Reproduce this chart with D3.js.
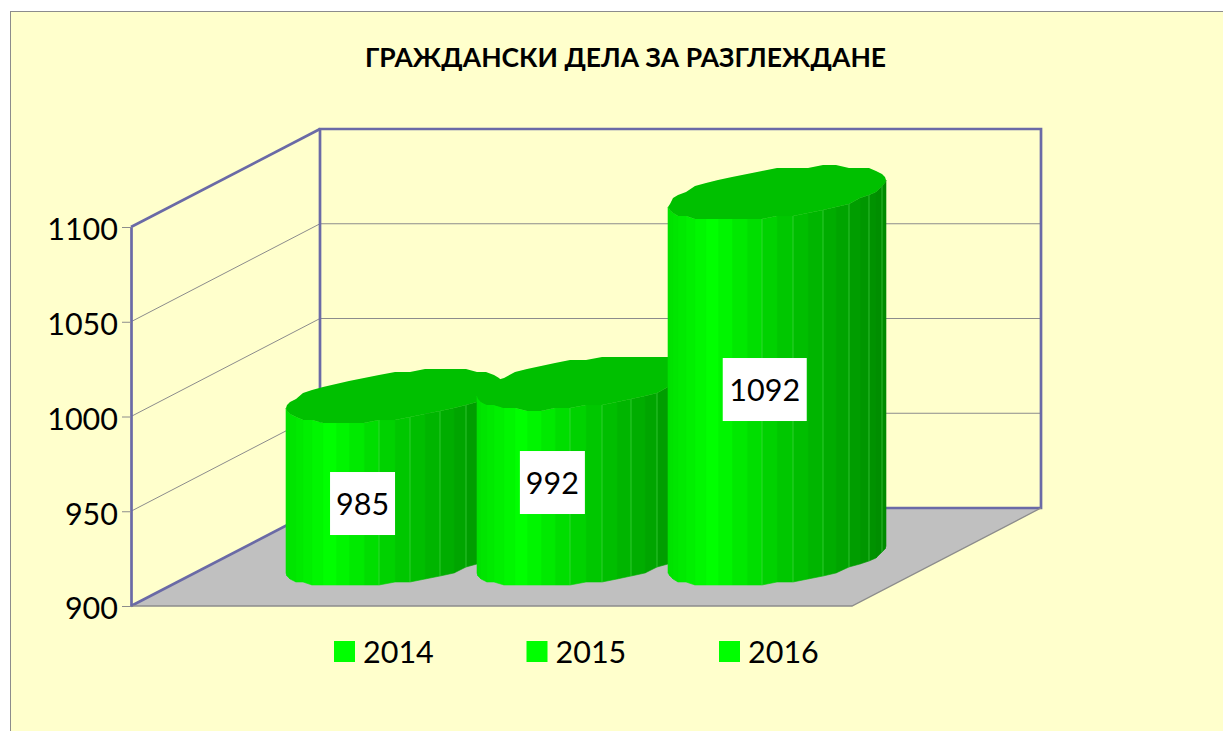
<!DOCTYPE html>
<html>
<head>
<meta charset="utf-8">
<script src="https://cdn.jsdelivr.net/npm/d3@7"></script>
<style>
    html, body { margin: 0; padding: 0; background: #fff; overflow: hidden; }
    text { font-family: Lato, Carlito, "Open Sans", sans-serif; fill: #000; }
</style>
</head>
<body>
<svg id="chart" width="1223" height="731"></svg>
<script>
const chartTitle = 'ГРАЖДАНСКИ ДЕЛА ЗА РАЗГЛЕЖДАНЕ';
const years = ['2014', '2015', '2016'];
const values = [985, 992, 1092];
const yTicks = [900, 950, 1000, 1050, 1100];

// Floor and depth of the 3D box, in pixels
const originX = 131, originY = 606, floorWidth = 721;
const depthX = 189, depthY = 98;
const blue = '#6a6aa6', grey = '#8c8c8c';

const svg = d3.select('#chart');
const line = d3.line();

const x = d3.scaleBand().domain(years).range([0, floorWidth]).paddingInner(0).paddingOuter(0.384);
const y = d3.scaleLinear().domain([900, 1100]).range([originY, 227]);

// u along the floor, v into the depth, value up the wall
function project(u, v, value) {
    return [originX + u + v * depthX, y(value) - v * depthY];
}

// Panel
svg.append('rect').attr('x', 10.5).attr('y', 11.5).attr('width', 1240).attr('height', 760)
    .attr('fill', '#ffffcc').attr('stroke', grey).attr('stroke-width', 1);

svg.append('text').attr('x', 625.5).attr('y', 67).attr('text-anchor', 'middle')
    .attr('font-size', 26.5).attr('font-weight', 'bold').text(chartTitle);

// Floor
svg.append('path')
    .attr('d', line([project(0, 0, 900), project(floorWidth, 0, 900), project(floorWidth, 1, 900), project(0, 1, 900)]) + 'Z')
    .attr('fill', '#c0c0c0');

// Gridlines, back wall and side wall
yTicks.slice(1, -1).forEach(t => {
    svg.append('path').attr('d', line([project(0, 0, t), project(0, 1, t), project(floorWidth, 1, t)]))
        .attr('fill', 'none').attr('stroke', grey).attr('stroke-width', 1);
});

const walls = [
    [project(0, 1, 900), project(0, 1, 1100), project(floorWidth, 1, 1100), project(floorWidth, 1, 900), project(0, 1, 900)],
    [project(0, 0, 1100), project(0, 1, 1100)],
    [project(0, 0, 900), project(0, 1, 900)]
];
walls.forEach(w => {
    svg.append('path').attr('d', line(w)).attr('fill', 'none').attr('stroke', blue).attr('stroke-width', 2.7);
});

svg.append('path')
    .attr('d', line([project(0, 0, 900), project(floorWidth, 0, 900), project(floorWidth, 1, 900)]))
    .attr('fill', 'none').attr('stroke', grey).attr('stroke-width', 1.4);

// Value axis
const axis = svg.append('g').attr('transform', `translate(${originX},0)`)
    .call(d3.axisLeft(y).tickValues(yTicks).tickFormat(d3.format('d')).tickSize(9).tickPadding(4).tickSizeOuter(0));
axis.select('.domain').attr('stroke', blue).attr('stroke-width', 2.7);
axis.selectAll('.tick line').attr('stroke', grey).attr('stroke-width', 1);
axis.selectAll('.tick text').attr('font-size', 30.5).attr('dy', '0.42em')
    .style('font-family', 'Lato, Carlito, sans-serif');

// Cylinders
const facets = 22;
const depthRadius = 0.2755;
const baseDrop = 2;
const facetColor = d3.scaleLinear()
    .domain([0, 0.1, 0.2, 0.5, 1])
    .range(['#00e000', '#00f000', '#00ff00', '#00cc00', '#008a00']);

// Coarse vertex rounding, gives the lumpy outline of the source chart
function snap(p) {
    return [Math.round(p[0]), Math.round(p[1] / 3) * 3];
}

function drawCylinder(year, value) {
    const a = x.bandwidth() / 2;
    const cu = x(year) + a;
    const cv = 0.5;
    const shear = depthRadius * depthX;
    const thetaR = Math.atan2(shear, a);
    const at = (theta, val) => project(
        cu + a * Math.cos(theta),
        cv + depthRadius * Math.sin(theta),
        val
    );
    const thetas = d3.range(facets * 2).map(k => thetaR - Math.PI * k / facets);
    const g = svg.append('g').attr('class', 'cylinder');

    const topRing = thetas.map(t => snap(at(t, value)));
    const baseRing = thetas.map(t => {
        const p = at(t, 900);
        return snap([p[0], p[1] + baseDrop]);
    });

    d3.range(facets).forEach(k => {
        const midX = (topRing[k][0] + topRing[k + 1][0]) / 2;
        const span = (midX - topRing[facets][0]) / (topRing[0][0] - topRing[facets][0]);
        g.append('path')
            .attr('d', line([topRing[k], topRing[k + 1], baseRing[k + 1], baseRing[k]]) + 'Z')
            .attr('fill', facetColor(span))
            .attr('stroke', facetColor(span)).attr('stroke-width', 0.6);
    });
    // light seams on the shaded half
    d3.range(1, facets - 1).filter(k => k % 2 === 0 && k < 14).forEach(k => {
        g.append('path').attr('d', line([topRing[k], baseRing[k]]))
            .attr('stroke', '#4fd64f').attr('stroke-width', 0.6).attr('fill', 'none');
    });

    g.append('path').attr('d', line(topRing) + 'Z').attr('fill', '#00c000');
}

years.forEach((year, i) => drawCylinder(year, values[i]));

// Value labels, white boxes placed by hand in the source chart
const labelShift = [[-34, -52.5], [-35.5, -73.5], [-14.5, -166.5]];
const labelWidth = [65, 65, 84];
years.forEach((year, i) => {
    const cx = originX + x(year) + x.bandwidth() / 2 + 0.51 * depthX + labelShift[i][0];
    const cy = originY - 0.51 * depthY + labelShift[i][1];
    svg.append('rect').attr('x', cx - labelWidth[i] / 2).attr('y', cy - 31.5)
        .attr('width', labelWidth[i]).attr('height', 63).attr('fill', '#fff');
    svg.append('text').attr('x', cx).attr('y', cy + 11).attr('text-anchor', 'middle')
        .attr('font-size', 30.5).text(values[i]);
});

// Legend
const legendX = d3.scalePoint().domain(years).range([334, 719]);
years.forEach(year => {
    svg.append('rect').attr('x', legendX(year)).attr('y', 641).attr('width', 21).attr('height', 21).attr('fill', '#00ff00');
    svg.append('text').attr('x', legendX(year) + 29).attr('y', 663).attr('font-size', 30.5).text(year);
});
</script>
</body>
</html>
